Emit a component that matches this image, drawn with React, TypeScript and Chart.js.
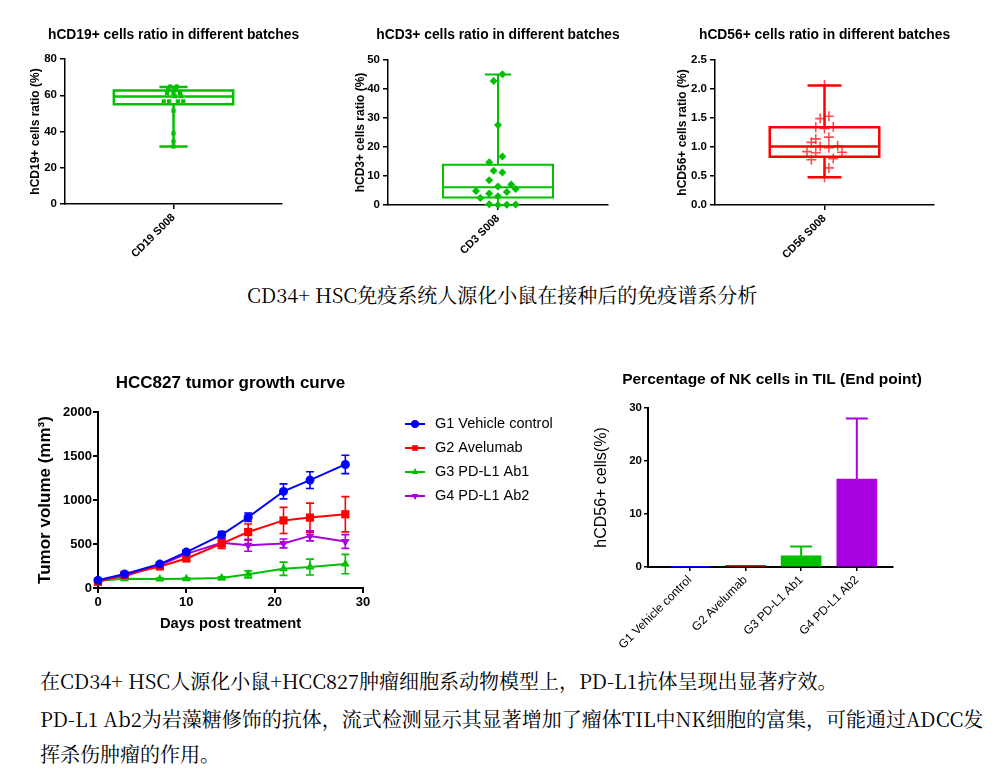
import React, { useEffect, useRef } from 'react';
import { Chart, registerables } from 'chart.js';
import { drawPoint } from 'chart.js/helpers';

Chart.register(...registerables);

const SANS = '"Liberation Sans", Arial, Helvetica, sans-serif';
const CJK = '"Noto Serif CJK SC", "Noto Sans CJK SC", serif';

const GREEN = '#00c000';
const RED = '#ff0000';
const BLUE = '#0000ff';
const PURPLE = '#a800e0';

// ---------- Box plot data (value, horizontal jitter, [min, q1, median, q3, max]) ----------
const cd19Label = 'CD19 S008';
const cd19Values = [64.8, 64.8, 63, 63, 61.2, 61.2, 61.2, 59.5, 59.5, 56.6, 56.6, 56.6, 56.6, 51.5, 39, 34.5, 31.7];
const cd19Jitter = [-0.03, 0.03, -0.05, 0.02, -0.06, 0, 0.06, 0.01, 0.07, -0.09, -0.04, 0.04, 0.09, 0, 0, 0, 0];
const cd19Stats = [31.7, 55.1, 59.3, 62.6, 64.5];

const cd3Label = 'CD3 S008';
const cd3Values = [45.1, 42.8, 27.6, 16.7, 14.7, 11.8, 11.2, 8.5, 6.4, 7.1, 5.5, 4.8, 4.0, 4.5, 2.4, 3.0, 0.3, 0.0, 0.1, 0.2];
const cd3Jitter = [0.04, -0.04, 0, 0.04, -0.08, -0.04, 0.04, -0.08, 0, 0.12, 0.16, -0.2, -0.08, 0.08, -0.16, 0, -0.08, 0, 0.08, 0.16];
const cd3Stats = [0, 2.6, 6.1, 13.9, 45];

const cd56Label = 'CD56 S008';
const cd56Values = [2.07, 1.53, 1.49, 1.34, 1.32, 1.35, 1.17, 1.14, 1.08, 1.02, 1.01, 0.99, 0.92, 0.9, 0.91, 0.78, 0.8, 0.64, 0.48];
const cd56Jitter = [0, 0.04, -0.04, -0.08, 0, 0.08, 0.04, -0.08, -0.12, 0.12, -0.04, 0.04, -0.16, -0.08, 0.16, -0.12, 0.08, 0.04, 0];
const cd56Stats = [0.48, 0.83, 1.01, 1.34, 2.06];

// ---------- Tumor growth curve ----------
const days = [0, 3, 7, 10, 14, 17, 21, 24, 28];
const groupNames = ['G1 Vehicle control', 'G2 Avelumab', 'G3 PD-L1 Ab1', 'G4 PD-L1 Ab2'];
const g1Mean = [87, 158, 272, 408, 604, 804, 1098, 1226, 1404];
const g1Err = [20, 25, 20, 22, 38, 48, 85, 95, 104];
const g2Mean = [70, 150, 245, 335, 505, 636, 768, 800, 838];
const g2Err = [15, 20, 20, 22, 55, 92, 148, 165, 200];
const g3Mean = [82, 106, 102, 104, 113, 155, 219, 238, 272];
const g3Err = [10, 12, 10, 10, 15, 40, 75, 90, 110];
const g4Mean = [80, 132, 262, 388, 515, 485, 506, 592, 528];
const g4Err = [15, 20, 20, 22, 40, 68, 50, 57, 78];

// ---------- NK cells in TIL ----------
const nkCategories = groupNames;
const nkMean = [0.05, 0.3, 2.1, 16.6];
const nkErr = [0, 0, 1.75, 11.4];

// ---------- Texts ----------
const caption1 = 'CD34+ HSC免疫系统人源化小鼠在接种后的免疫谱系分析';
const caption2 = '在CD34+ HSC人源化小鼠+HCC827肿瘤细胞系动物模型上，PD-L1抗体呈现出显著疗效。';
const caption3a = 'PD-L1 Ab2为岩藻糖修饰的抗体，流式检测显示其显著增加了瘤体TIL中NK细胞的富集，可能通过ADCC发';
const caption3b = '挥杀伤肿瘤的作用。';

// ---------- Plugins ----------
const boxPlugin = {
  id: 'boxplot',
  beforeDatasetsDraw(chart: any, _a: any, opts: any) {
    if (!opts || !opts.stats) return;
    const { ctx } = chart;
    const x = chart.scales.x;
    const y = chart.scales.y;
    const [mn, q1, med, q3, mx] = opts.stats;
    const Y = (v: number) => y.getPixelForValue(v);
    const xl = x.getPixelForValue(-opts.half);
    const xr = x.getPixelForValue(opts.half);
    const xc = x.getPixelForValue(0);
    const cl = x.getPixelForValue(-opts.cap);
    const cr = x.getPixelForValue(opts.cap);
    ctx.save();
    ctx.strokeStyle = opts.color;
    ctx.lineWidth = opts.lineWidth;
    ctx.beginPath();
    ctx.rect(xl, Y(q3), xr - xl, Y(q1) - Y(q3));
    ctx.moveTo(xl, Y(med));
    ctx.lineTo(xr, Y(med));
    ctx.moveTo(xc, Y(q3));
    ctx.lineTo(xc, Y(mx));
    ctx.moveTo(xc, Y(q1));
    ctx.lineTo(xc, Y(mn));
    ctx.moveTo(cl, Y(mx));
    ctx.lineTo(cr, Y(mx));
    ctx.moveTo(cl, Y(mn));
    ctx.lineTo(cr, Y(mn));
    ctx.stroke();
    ctx.restore();
  },
};

function drawErrors(chart: any, opts: any) {
  const { ctx } = chart;
  const x = chart.scales.x;
  const y = chart.scales.y;
  chart.data.datasets.forEach((ds: any, di: number) => {
    const errs = opts.errors[di];
    if (!errs) return;
    ds.data.forEach((pt: any, i: number) => {
      const e = errs[i];
      if (!e) return;
      const color = Array.isArray(ds.backgroundColor) ? ds.backgroundColor[i] : ds.borderColor;
      const px = x.getPixelForValue(pt.x);
      const top = y.getPixelForValue(pt.y + e);
      const bot = opts.both ? y.getPixelForValue(pt.y - e) : y.getPixelForValue(pt.y);
      ctx.save();
      ctx.strokeStyle = color;
      ctx.lineWidth = opts.width;
      ctx.beginPath();
      ctx.moveTo(px, top);
      ctx.lineTo(px, bot);
      ctx.moveTo(px - opts.cap, top);
      ctx.lineTo(px + opts.cap, top);
      if (opts.both) {
        ctx.moveTo(px - opts.cap, bot);
        ctx.lineTo(px + opts.cap, bot);
      }
      ctx.stroke();
      ctx.restore();
    });
  });
}

const errorBarPlugin = {
  id: 'errorbars',
  beforeDatasetsDraw(chart: any, _a: any, opts: any) {
    if (opts && opts.errors && !opts.front) drawErrors(chart, opts);
  },
  afterDatasetsDraw(chart: any, _a: any, opts: any) {
    if (opts && opts.errors && opts.front) drawErrors(chart, opts);
  },
};

// chart title centred over the plot area, without width compression
const topTitlePlugin = {
  id: 'topTitle',
  afterDraw(chart: any, _a: any, opts: any) {
    if (!opts || !opts.text) return;
    const { ctx, chartArea } = chart;
    ctx.save();
    ctx.fillStyle = '#000';
    ctx.font = `bold ${opts.size}px ${SANS}`;
    ctx.textAlign = 'center';
    ctx.textBaseline = 'middle';
    ctx.fillText(opts.text, (chartArea.left + chartArea.right) / 2 + (opts.dx || 0), chartArea.top - opts.offset);
    ctx.restore();
  },
};

const lineLegendPlugin = {
  id: 'lineLegend',
  afterDraw(chart: any, _a: any, opts: any) {
    if (!opts || !opts.show) return;
    const { ctx, chartArea } = chart;
    const x0 = chartArea.right + opts.dx;
    chart.data.datasets.forEach((ds: any, i: number) => {
      const yy = chartArea.top + opts.dy + i * opts.spacing;
      ctx.save();
      ctx.strokeStyle = ds.borderColor;
      ctx.lineWidth = 2;
      ctx.beginPath();
      ctx.moveTo(x0, yy);
      ctx.lineTo(x0 + opts.lineLen, yy);
      ctx.stroke();
      ctx.fillStyle = ds.backgroundColor;
      drawPoint(ctx, { pointStyle: ds.pointStyle, rotation: ds.pointRotation || 0, radius: opts.radius, borderWidth: 0 } as any, x0 + opts.lineLen / 2, yy);
      ctx.fillStyle = '#000';
      ctx.font = `${opts.fontSize}px ${SANS}`;
      ctx.textBaseline = 'middle';
      ctx.textAlign = 'left';
      ctx.fillText(ds.label, x0 + opts.textGap, yy);
      ctx.restore();
    });
  },
};

// ---------- geometry helpers ----------
type Geo = {
  cx: number; cy: number; cw: number; ch: number;
  L: number; R: number; T: number; B: number;
  titleY: number; yTitleX: number; xTitleY?: number;
};

function frame(g: Geo, yTitleSize: number, xTitleSize = 0) {
  return {
    yW: g.L - g.cx,
    xH: g.cy + g.ch - g.B,
    padRight: g.cx + g.cw - g.R,
    padTop: g.T - g.cy,
    titleOffset: g.T - g.titleY,
    yTitlePad: { top: g.yTitleX - g.cx - (yTitleSize * 1.2) / 2, bottom: 0 },
    xTitlePad: { top: 0, bottom: g.xTitleY ? g.cy + g.ch - g.xTitleY - (xTitleSize * 1.2) / 2 : 0 },
  };
}

const axisGrid = (w: number, len: number) => ({
  display: true,
  drawOnChartArea: false,
  drawTicks: true,
  tickLength: len,
  color: '#000',
  lineWidth: w,
});

type BoxSpec = {
  title: string; yTitle: string; label: string;
  values: number[]; jitter: number[]; stats: number[];
  yMax: number; yStep: number; decimals: number;
  color: string; pointStyle: string; pointRadius: number;
  pointFill: string; pointStroke: string; pointBorder: number;
  half: number; cap: number; boxWidth: number;
};

function boxConfig(s: BoxSpec, g: Geo): any {
  const f = frame(g, 12);
  return {
    type: 'scatter',
    data: {
      datasets: [
        {
          data: s.values.map((v, i) => ({ x: s.jitter[i], y: v })),
          pointStyle: s.pointStyle,
          pointRadius: s.pointRadius,
          backgroundColor: s.pointFill,
          borderColor: s.pointStroke,
          borderWidth: s.pointBorder,
          clip: false,
        },
      ],
    },
    options: {
      animation: false,
      responsive: true,
      maintainAspectRatio: false,
      events: [],
      layout: { padding: { left: 0, top: f.padTop, bottom: 0, right: f.padRight } },
      plugins: {
        legend: { display: false },
        tooltip: { enabled: false },
        title: { display: false },
        topTitle: { text: s.title, size: 13.8, offset: f.titleOffset },
        boxplot: { stats: s.stats, color: s.color, half: s.half, cap: s.cap, lineWidth: s.boxWidth },
      },
      scales: {
        x: {
          type: 'linear',
          min: -1,
          max: 1,
          afterBuildTicks: (sc: any) => { sc.ticks = [{ value: 0 }]; },
          afterFit: (sc: any) => { sc.height = f.xH; },
          ticks: {
            callback: () => s.label,
            minRotation: 45,
            maxRotation: 45,
            color: '#000',
            padding: 2,
            font: { family: SANS, size: 11, weight: 'bold' },
          },
          grid: axisGrid(1.5, 5),
          border: { display: true, color: '#000', width: 1.5 },
        },
        y: {
          min: 0,
          max: s.yMax,
          afterFit: (sc: any) => { sc.width = f.yW; },
          ticks: {
            stepSize: s.yStep,
            color: '#000',
            padding: 3,
            font: { family: SANS, size: 11.5, weight: 'bold' },
            callback: (v: any) => Number(v).toFixed(s.decimals),
          },
          grid: axisGrid(1.5, 5),
          border: { display: true, color: '#000', width: 1.5 },
          title: {
            display: true,
            text: s.yTitle,
            color: '#000',
            font: { family: SANS, size: 12, weight: 'bold' },
            padding: f.yTitlePad,
          },
        },
      },
    },
    plugins: [boxPlugin, topTitlePlugin],
  };
}

function lineConfig(g: Geo): any {
  const f = frame(g, 17, 14.7);
  const mk = (mean: number[]) => mean.map((v, i) => ({ x: days[i], y: v }));
  const common = { borderWidth: 2, clip: false, pointBorderWidth: 0 };
  return {
    type: 'line',
    data: {
      datasets: [
        { ...common, label: groupNames[0], data: mk(g1Mean), borderColor: BLUE, backgroundColor: BLUE, pointStyle: 'circle', pointRadius: 4.5 },
        { ...common, label: groupNames[1], data: mk(g2Mean), borderColor: RED, backgroundColor: RED, pointStyle: 'rect', pointRadius: 5.8 },
        { ...common, label: groupNames[2], data: mk(g3Mean), borderColor: GREEN, backgroundColor: GREEN, pointStyle: 'triangle', pointRadius: 5 },
        { ...common, label: groupNames[3], data: mk(g4Mean), borderColor: PURPLE, backgroundColor: PURPLE, pointStyle: 'triangle', pointRotation: 180, pointRadius: 5 },
      ],
    },
    options: {
      animation: false,
      responsive: true,
      maintainAspectRatio: false,
      events: [],
      layout: { padding: { left: 0, top: f.padTop, bottom: 0, right: f.padRight } },
      plugins: {
        legend: { display: false },
        tooltip: { enabled: false },
        title: { display: false },
        topTitle: { text: 'HCC827 tumor growth curve', size: 17, offset: f.titleOffset },
        errorbars: { errors: [g1Err, g2Err, g3Err, g4Err], both: true, cap: 4, width: 1.6, front: false },
        lineLegend: { show: true, dx: 42, dy: 12, spacing: 24, lineLen: 20, radius: 4, textGap: 30, fontSize: 14.5 },
      },
      scales: {
        x: {
          type: 'linear',
          min: 0,
          max: 30,
          afterFit: (sc: any) => { sc.height = f.xH; },
          ticks: { stepSize: 10, color: '#000', padding: 2, font: { family: SANS, size: 13, weight: 'bold' } },
          grid: axisGrid(2, 5),
          border: { display: true, color: '#000', width: 2 },
          title: {
            display: true,
            text: 'Days post treatment',
            color: '#000',
            font: { family: SANS, size: 14.7, weight: 'bold' },
            padding: f.xTitlePad,
          },
        },
        y: {
          min: 0,
          max: 2000,
          afterFit: (sc: any) => { sc.width = f.yW; },
          ticks: {
            stepSize: 500,
            color: '#000',
            padding: 1,
            font: { family: SANS, size: 13, weight: 'bold' },
            callback: (v: any) => String(v),
          },
          grid: axisGrid(2, 5),
          border: { display: true, color: '#000', width: 2 },
          title: {
            display: true,
            text: 'Tumor volume (mm³)',
            color: '#000',
            font: { family: SANS, size: 17, weight: 'bold' },
            padding: f.yTitlePad,
          },
        },
      },
    },
    plugins: [errorBarPlugin, lineLegendPlugin, topTitlePlugin],
  };
}

function barConfig(g: Geo): any {
  const f = frame(g, 16);
  return {
    type: 'bar',
    data: {
      datasets: [
        {
          data: nkMean.map((v, i) => ({ x: i, y: v })),
          backgroundColor: [BLUE, RED, GREEN, PURPLE],
          borderWidth: 0,
          barThickness: 40,
        },
      ],
    },
    options: {
      animation: false,
      responsive: true,
      maintainAspectRatio: false,
      events: [],
      layout: { padding: { left: 0, top: f.padTop, bottom: 0, right: f.padRight } },
      plugins: {
        legend: { display: false },
        tooltip: { enabled: false },
        title: { display: false },
        topTitle: { text: 'Percentage of NK cells in TIL (End point)', size: 15.5, offset: f.titleOffset, dx: 1.5 },
        errorbars: { errors: [nkErr], both: false, cap: 11, width: 2, front: true },
      },
      scales: {
        x: {
          type: 'linear',
          min: -0.75,
          max: 3.65,
          offset: false,
          afterBuildTicks: (sc: any) => { sc.ticks = nkCategories.map((_, i) => ({ value: i })); },
          afterFit: (sc: any) => { sc.height = f.xH; },
          ticks: {
            callback: (v: any) => nkCategories[Number(v)],
            minRotation: 45,
            maxRotation: 45,
            color: '#000',
            padding: 2,
            font: { family: SANS, size: 12 },
          },
          grid: { ...axisGrid(1.5, 4), offset: false },
          border: { display: true, color: '#000', width: 2 },
        },
        y: {
          min: 0,
          max: 30,
          afterFit: (sc: any) => { sc.width = f.yW; },
          ticks: { stepSize: 10, color: '#000', padding: 2, font: { family: SANS, size: 11.5, weight: 'bold' } },
          grid: axisGrid(1.5, 4),
          border: { display: true, color: '#000', width: 2 },
          title: {
            display: true,
            text: 'hCD56+ cells(%)',
            color: '#000',
            font: { family: SANS, size: 16 },
            padding: f.yTitlePad,
          },
        },
      },
    },
    plugins: [errorBarPlugin, topTitlePlugin],
  };
}

// ---------- Specs ----------
const cd19Spec: BoxSpec = {
  title: 'hCD19+ cells ratio in different batches', yTitle: 'hCD19+ cells ratio (%)', label: cd19Label,
  values: cd19Values, jitter: cd19Jitter, stats: cd19Stats, yMax: 80, yStep: 20, decimals: 0,
  color: GREEN, pointStyle: 'rect', pointRadius: 3, pointFill: GREEN, pointStroke: GREEN, pointBorder: 0,
  half: 0.55, cap: 0.13, boxWidth: 2.5,
};
const cd3Spec: BoxSpec = {
  title: 'hCD3+ cells ratio in different batches', yTitle: 'hCD3+ cells ratio (%)', label: cd3Label,
  values: cd3Values, jitter: cd3Jitter, stats: cd3Stats, yMax: 50, yStep: 10, decimals: 0,
  color: GREEN, pointStyle: 'rectRot', pointRadius: 4, pointFill: GREEN, pointStroke: GREEN, pointBorder: 0,
  half: 0.5, cap: 0.12, boxWidth: 2,
};
const cd56Spec: BoxSpec = {
  title: 'hCD56+ cells ratio in different batches', yTitle: 'hCD56+ cells ratio (%)', label: cd56Label,
  values: cd56Values, jitter: cd56Jitter, stats: cd56Stats, yMax: 2.5, yStep: 0.5, decimals: 1,
  color: RED, pointStyle: 'cross', pointRadius: 5, pointFill: 'rgba(255,0,0,0.7)', pointStroke: 'rgba(255,0,0,0.7)', pointBorder: 1.6,
  half: 0.5, cap: 0.155, boxWidth: 2.5,
};

const geoCD19: Geo = { cx: 10, cy: 15, cw: 290, ch: 255, L: 65, R: 282, T: 59, B: 204, titleY: 35, yTitleX: 36 };
const geoCD3: Geo = { cx: 335, cy: 15, cw: 290, ch: 255, L: 388, R: 608, T: 60, B: 205, titleY: 35, yTitleX: 361 };
const geoCD56: Geo = { cx: 660, cy: 15, cw: 320, ch: 255, L: 715, R: 934, T: 60, B: 205, titleY: 35, yTitleX: 683 };
const geoLine: Geo = { cx: 20, cy: 360, cw: 550, ch: 280, L: 98, R: 363, T: 412, B: 588, titleY: 383, yTitleX: 45, xTitleY: 624 };
const geoBar: Geo = { cx: 590, cy: 360, cw: 380, ch: 290, L: 648, R: 893, T: 408, B: 567, titleY: 380, yTitleX: 602 };

function ChartCanvas({ g, build }: { g: Geo; build: () => any }) {
  const ref = useRef<HTMLCanvasElement>(null);
  useEffect(() => {
    const chart = new Chart(ref.current as HTMLCanvasElement, build());
    return () => chart.destroy();
  }, []);
  return (
    <div style={{ position: 'absolute', left: g.cx, top: g.cy, width: g.cw, height: g.ch }}>
      <canvas ref={ref} />
    </div>
  );
}

const textStyle = (left: number, top: number): React.CSSProperties => ({
  position: 'absolute',
  left,
  top,
  fontFamily: CJK,
  fontSize: 20,
  lineHeight: '28px',
  color: '#000',
  whiteSpace: 'nowrap',
});

export default function App() {
  return (
    <div style={{ position: 'absolute', left: 0, top: 0, width: 1008, height: 780, background: '#fff', overflow: 'hidden' }}>
      <ChartCanvas g={geoCD19} build={() => boxConfig(cd19Spec, geoCD19)} />
      <ChartCanvas g={geoCD3} build={() => boxConfig(cd3Spec, geoCD3)} />
      <ChartCanvas g={geoCD56} build={() => boxConfig(cd56Spec, geoCD56)} />
      <div style={textStyle(247, 281)}>{caption1}</div>
      <ChartCanvas g={geoLine} build={() => lineConfig(geoLine)} />
      <ChartCanvas g={geoBar} build={() => barConfig(geoBar)} />
      <div style={textStyle(40, 667)}>{caption2}</div>
      <div style={textStyle(40, 705)}>{caption3a}</div>
      <div style={textStyle(40, 740)}>{caption3b}</div>
    </div>
  );
}
